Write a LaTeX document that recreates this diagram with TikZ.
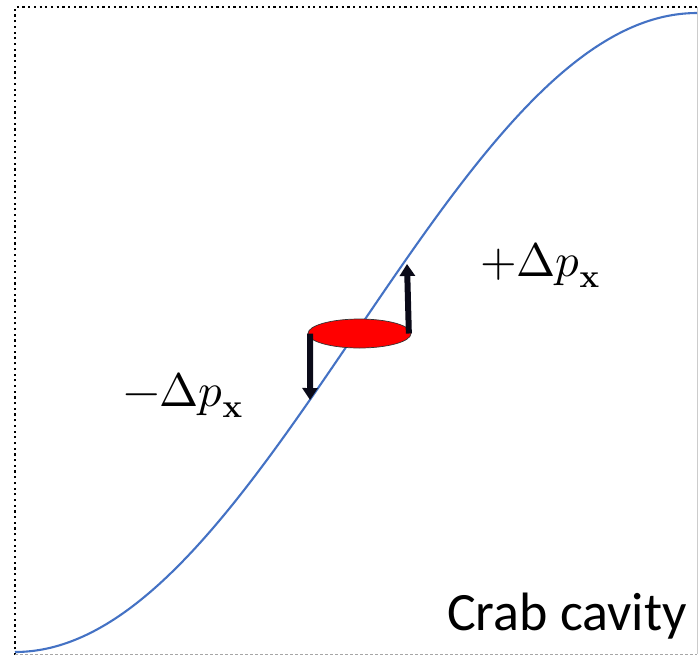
\documentclass[tikz,border=0pt]{standalone}
\usepackage{fontspec}
\usepackage{unicode-math}
\newfontfamily\labelfont{Carlito}
\usetikzlibrary{shapes.geometric,arrows.meta}
\definecolor{curveblue}{HTML}{4472C4}
\definecolor{arrowblack}{HTML}{0A0A18}
\tikzset{
  framedot/.style={line width=2.4pt,dash pattern=on 2.2pt off 3.5pt,black},
  framedash/.style={line width=0.9pt,dash pattern=on 3pt off 2pt,gray!70},
  wave/.style={line width=2.1pt,curveblue},
  kick/.style={line width=6pt,arrowblack,-{Triangle[length=12pt,width=15pt]}},
  bunchstyle/.style={ellipse,draw=black!80,line width=0.7pt,fill=red,minimum width=103pt,minimum height=29pt,inner sep=0pt},
  mathlabel/.style={anchor=base west,inner sep=0pt,font=\fontsize{47}{50}\selectfont},
}
\begin{document}
\begin{tikzpicture}[x=1pt,y=-1pt]
\useasboundingbox (0,0) rectangle (699,657);
% frame
\draw[framedot] (15,655) -- (15,7) -- (697,7);
\draw[framedash] (15,654) -- (697,654);
\draw[line width=0.6pt,gray!40] (697,7) -- (697,654);
% curve
\draw[wave] plot[domain=15:697,samples=200,smooth] (\x,{332.5+319.5*cos((\x-15)/682*180)});
% bunch
\node[bunchstyle] (bunch) at (359.5,333.5) {};
\coordinate (lowtip) at (310,400);
\coordinate (uptip) at (407,264);
\draw[kick] ([xshift=2.5pt]bunch.west) -- (lowtip);
\draw[kick] ([xshift=-2.5pt]bunch.east) -- (uptip);
% labels
\node[mathlabel] (plus) at (480,276) {$+\Delta p_{\mathbf{x}}$};
\node[mathlabel] (minus) at (123,406) {$-\Delta p_{\mathbf{x}}$};
\node[anchor=base west,inner sep=0pt,font=\labelfont\fontsize{54}{60}\selectfont] (crab) at (447,630) {Crab cavity};
\end{tikzpicture}
\end{document}
